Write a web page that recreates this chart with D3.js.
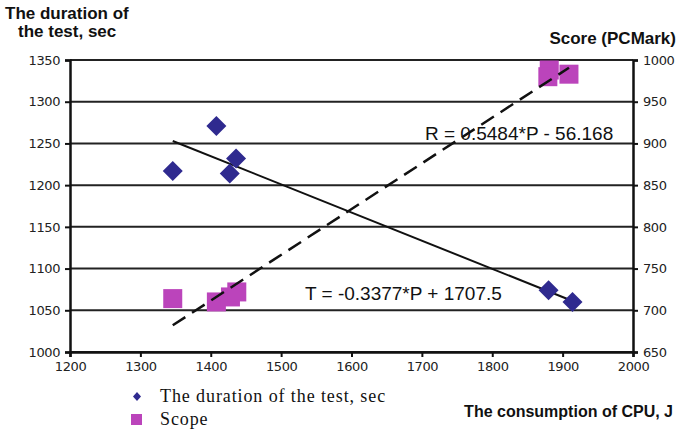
<!DOCTYPE html>
<html lang="en">
<head>
    <meta charset="UTF-8">
    <title>CPU consumption vs test duration and score</title>
    <style>
        body {
            margin: 0;
            background: #fff;
        }
        .tick text {
            font-family: "DejaVu Sans", Verdana, sans-serif;
            font-size: 13px;
            fill: #222;
            letter-spacing: -0.4px;
        }
        .axis-title {
            font-family: "Liberation Sans", Arial, sans-serif;
            font-weight: bold;
            font-size: 17px;
            fill: #111;
        }
        .eq {
            font-family: "Liberation Sans", Arial, sans-serif;
            font-size: 19px;
            fill: #111;
        }
        .legend text {
            font-family: "Liberation Serif", "Times New Roman", serif;
            font-size: 18px;
            letter-spacing: 0.9px;
            fill: #111;
        }
    </style>
</head>
<body>
    <svg id="chart" width="685" height="433"></svg>

    <script src="https://d3js.org/d3.v7.min.js"></script>
    <script>
        // duration of the test (left axis)
        const durCpu = [1346, 1408, 1436, 1427, 1880, 1914];
        const durSec = [1217, 1271, 1232, 1214, 1074, 1060];

        // score (right axis)
        const scoreCpu = [1346, 1408, 1428, 1437, 1881, 1879, 1909];
        const scoreVal = [714, 710, 716, 722, 988, 980, 983];

        const xTicks = [1200, 1300, 1400, 1500, 1600, 1700, 1800, 1900, 2000];
        const leftTicks = [1000, 1050, 1100, 1150, 1200, 1250, 1300, 1350];
        const rightTicks = [650, 700, 750, 800, 850, 900, 950, 1000];

        // fitted lines from the picture
        const durFit = { a: -0.3377, b: 1707.5, label: "T = -0.3377*P + 1707.5" };
        const scoreFit = { a: 0.5484, b: -56.168, label: "R = 0.5484*P - 56.168" };

        const svg = d3.select("#chart");

        const x = d3.scaleLinear().domain([1200, 2000]).range([70, 633]);
        const yL = d3.scaleLinear().domain([1000, 1350]).range([352, 60]);
        const yR = d3.scaleLinear().domain([650, 1000]).range([352, 60]);
        const fmt = d3.format("d");

        // grid lines
        svg.append("g")
            .selectAll("line")
            .data(leftTicks)
            .join("line")
            .attr("x1", x(1200))
            .attr("x2", x(2000))
            .attr("y1", d => yL(d))
            .attr("y2", d => yL(d))
            .attr("stroke", "#222")
            .attr("stroke-width", 2);

        // axes
        const axL = svg.append("g")
            .attr("transform", `translate(${x(1200)},0)`)
            .call(d3.axisLeft(yL).tickValues(leftTicks).tickFormat(fmt).tickSize(5).tickPadding(5));
        const axR = svg.append("g")
            .attr("transform", `translate(${x(2000)},0)`)
            .call(d3.axisRight(yR).tickValues(rightTicks).tickFormat(fmt).tickSize(5).tickPadding(5));
        const axB = svg.append("g")
            .attr("transform", `translate(0,${yL(1000)})`)
            .call(d3.axisBottom(x).tickValues(xTicks).tickFormat(fmt).tickSize(5).tickPadding(5));

        [axL, axR, axB].forEach(g => {
            g.select(".domain").attr("stroke", "#111").attr("stroke-width", 2.5);
            g.selectAll(".tick line").attr("stroke", "#111").attr("stroke-width", 2);
        });

        // trend line for duration
        const durExt = d3.extent(durCpu);
        svg.append("line")
            .attr("x1", x(durExt[0]))
            .attr("y1", yL(durFit.a * durExt[0] + durFit.b))
            .attr("x2", x(durExt[1]))
            .attr("y2", yL(durFit.a * durExt[1] + durFit.b))
            .attr("stroke", "#111")
            .attr("stroke-width", 2);

        const scoreExt = d3.extent(scoreCpu);

        // squares (score)
        const sq = 19;
        svg.append("g")
            .selectAll("rect")
            .data(scoreCpu)
            .join("rect")
            .attr("x", d => x(d) - sq / 2)
            .attr("y", (d, i) => yR(scoreVal[i]) - sq / 2)
            .attr("width", sq)
            .attr("height", sq)
            .attr("fill", "#bb44bb");

        // diamonds (duration)
        const dm = 10;
        svg.append("g")
            .selectAll("path")
            .data(durCpu)
            .join("path")
            .attr("d", (d, i) => {
                const cx = x(d), cy = yL(durSec[i]);
                return `M${cx},${cy - dm}L${cx + dm},${cy}L${cx},${cy + dm}L${cx - dm},${cy}Z`;
            })
            .attr("fill", "#2f2a8f");

        // trend line for score (dashed)
        svg.append("line")
            .attr("x1", x(scoreExt[0]))
            .attr("y1", yR(scoreFit.a * scoreExt[0] + scoreFit.b))
            .attr("x2", x(scoreExt[1]))
            .attr("y2", yR(scoreFit.a * scoreExt[1] + scoreFit.b))
            .attr("stroke", "#111")
            .attr("stroke-width", 2.5)
            .attr("stroke-dasharray", "15,8");

        // equations
        svg.append("text").attr("class", "eq")
            .attr("x", 425).attr("y", 140)
            .text(scoreFit.label);
        svg.append("text").attr("class", "eq")
            .attr("x", 305).attr("y", 300)
            .text(durFit.label);

        // axis titles
        svg.append("text").attr("class", "axis-title")
            .attr("x", 5).attr("y", 19).text("The duration of");
        svg.append("text").attr("class", "axis-title")
            .attr("x", 18).attr("y", 37).text("the test, sec");
        svg.append("text").attr("class", "axis-title")
            .attr("x", 676).attr("y", 44).attr("text-anchor", "end").text("Score (PCMark)");
        svg.append("text").attr("class", "axis-title")
            .attr("x", 673).attr("y", 417).attr("text-anchor", "end")
            .style("font-size", "16px").text("The consumption of CPU, J");

        // legend
        const legend = svg.append("g").attr("class", "legend");
        legend.append("path")
            .attr("d", "M137,392L141,396.5L137,401L133,396.5Z")
            .attr("fill", "#2f2a8f");
        legend.append("text").attr("x", 160).attr("y", 402).text("The duration of the test, sec");
        legend.append("rect")
            .attr("x", 131).attr("y", 414).attr("width", 11).attr("height", 11)
            .attr("fill", "#bb44bb");
        legend.append("text").attr("x", 160).attr("y", 425).text("Scope");
    </script>
</body>
</html>
